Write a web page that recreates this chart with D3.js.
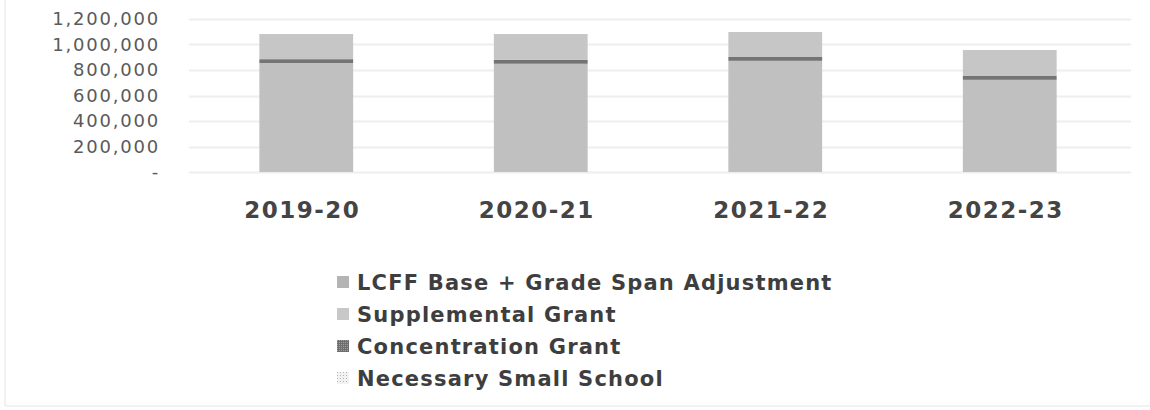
<!DOCTYPE html>
<html>
<head>
<meta charset="utf-8">
<script src="https://cdn.jsdelivr.net/npm/d3@7"></script>
<style>
	body { margin: 0; background: #fff; }
	svg { display: block; }
</style>
</head>
<body>
<div id="chart"></div>
<script>
// data
var years = ['2019-20', '2020-21', '2021-22', '2022-23'];
var series_names = ['LCFF Base + Grade Span Adjustment', 'Supplemental Grant', 'Concentration Grant', 'Necessary Small School'];
var base_grant = [855000, 849000, 872000, 723000];
var supplemental_grant = [0, 0, 0, 0];
var concentration_grant = [30000, 30000, 30000, 30000];
var small_school = [197000, 203000, 196000, 204000];
var y_ticks = [0, 200000, 400000, 600000, 800000, 1000000, 1200000];

var fmt = d3.format(',');

var width = 1150;
var height = 410;
var margin = {top: 19, right: 23, bottom: 238, left: 189};

var svg = d3.select('#chart')
	.append('svg')
	.attr('width', width)
	.attr('height', height);

// faint frame of the pasted picture
svg.append('line')
	.attr('x1', 5).attr('x2', 5).attr('y1', 0).attr('y2', 406)
	.attr('stroke', '#e4e4e4');
svg.append('line')
	.attr('x1', 5).attr('x2', 1150).attr('y1', 406).attr('y2', 406)
	.attr('stroke', '#e4e4e4');

var defs = svg.append('defs');
var conc_pat = defs.append('pattern')
	.attr('id', 'conc')
	.attr('width', 2).attr('height', 2)
	.attr('patternUnits', 'userSpaceOnUse');
conc_pat.append('rect').attr('width', 2).attr('height', 2).attr('fill', '#6e6e6e');
conc_pat.append('rect').attr('width', 1).attr('height', 1).attr('fill', '#a0a0a0');
var dot_pat = defs.append('pattern')
	.attr('id', 'dots')
	.attr('width', 3).attr('height', 3)
	.attr('patternUnits', 'userSpaceOnUse');
dot_pat.append('rect').attr('width', 3).attr('height', 3).attr('fill', '#f2f2f2');
dot_pat.append('rect').attr('width', 1).attr('height', 1).attr('fill', '#b0b0b0');

var colors = ['#c0c0c0', '#cbcbcb', '#747474', '#c6c6c6'];
var legend_fills = ['#b4b4b4', '#c8c8c8', 'url(#conc)', 'url(#dots)'];

var rows = years.map(function(d, i) {
	return {
		year: d,
		s0: base_grant[i],
		s1: supplemental_grant[i],
		s2: concentration_grant[i],
		s3: small_school[i]
	};
});

var stack = d3.stack().keys(['s0', 's1', 's2', 's3']);
var layers = stack(rows);

var x = d3.scaleBand()
	.domain(years)
	.range([margin.left, width - margin.right])
	.paddingInner(0.6)
	.paddingOuter(0.3);

var y = d3.scaleLinear()
	.domain([0, 1200000])
	.range([height - margin.bottom, margin.top]);

// gridlines
svg.append('g')
	.selectAll('line')
	.data(y_ticks)
	.enter()
	.append('line')
		.attr('x1', margin.left)
		.attr('x2', width - margin.right + 4)
		.attr('y1', function(d) { return Math.round(y(d)) + 0.5; })
		.attr('y2', function(d) { return Math.round(y(d)) + 0.5; })
		.attr('stroke', '#eeeeee')
		.attr('stroke-width', 2);

// y axis labels
svg.append('g')
	.selectAll('text')
	.data(y_ticks)
	.enter()
	.append('text')
		.attr('x', 160)
		.attr('y', function(d) { return y(d) + 6; })
		.attr('text-anchor', 'end')
		.text(function(d) { return d === 0 ? '-' : fmt(d); })
		.style('font-family', '"DejaVu Sans", sans-serif')
		.style('font-size', '18px')
		.style('letter-spacing', '1.8px')
		.style('fill', '#5a5a5a');

// bars
svg.append('g')
	.selectAll('g')
	.data(layers)
	.enter()
	.append('g')
		.attr('fill', function(d, i) { return colors[i]; })
	.selectAll('rect')
	.data(function(d) { return d; })
	.enter()
	.append('rect')
		.attr('x', function(d) { return x(d.data.year); })
		.attr('y', function(d) { return y(d[1]); })
		.attr('width', x.bandwidth())
		.attr('height', function(d) { return y(d[0]) - y(d[1]); });

// category labels
svg.append('g')
	.selectAll('text')
	.data(years)
	.enter()
	.append('text')
		.attr('x', function(d) { return x(d) + x.bandwidth() / 2 - 4; })
		.attr('y', 218)
		.attr('text-anchor', 'middle')
		.text(function(d) { return d; })
		.style('font-family', '"DejaVu Sans", sans-serif')
		.style('font-weight', 'bold')
		.style('font-size', '23px')
		.style('letter-spacing', '1.5px')
		.style('fill', '#444');

// legend
var legend = svg.append('g')
	.selectAll('g')
	.data(series_names)
	.enter()
	.append('g')
		.attr('transform', function(d, i) { return 'translate(337,' + (282 + 32 * i) + ')'; });
legend.append('rect')
	.attr('x', 0)
	.attr('y', -6)
	.attr('width', 12)
	.attr('height', 12)
	.attr('fill', function(d, i) { return legend_fills[i]; });
legend.append('text')
	.attr('x', 20)
	.attr('y', 8)
	.text(function(d) { return d; })
	.style('font-family', '"DejaVu Sans", sans-serif')
	.style('font-weight', 'bold')
	.style('font-size', '21px')
	.style('letter-spacing', '1.2px')
	.style('fill', '#3e3e3e');
</script>
</body>
</html>
